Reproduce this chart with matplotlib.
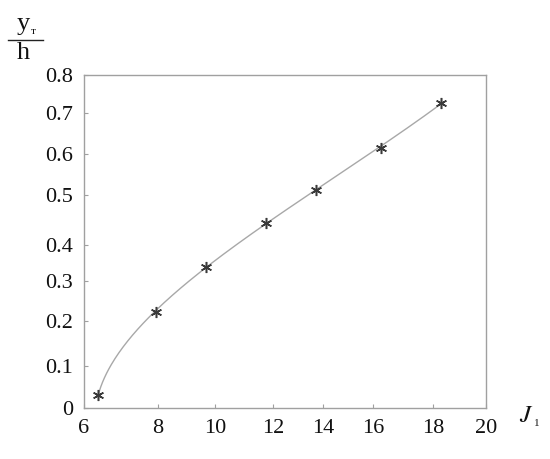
import matplotlib
matplotlib.use("Agg")
import matplotlib.pyplot as plt
import numpy as np

# measured points, J1 against yT/h
j1 = [6.37, 7.95, 9.68, 11.76, 13.7, 16.26, 18.3]
yt_h = [0.03, 0.222, 0.34, 0.445, 0.512, 0.615, 0.726]

x_ticks = [6, 8, 10, 12, 14, 16, 18, 20]
y_ticks = [0, 0.1, 0.2, 0.3, 0.4, 0.5, 0.6, 0.7, 0.8]
x_tick_labels = ["6", "8", "10", "12", "14", "16", "18", "20"]
y_tick_labels = ["0", "0.1", "0.2", "0.3", "0.4", "0.5", "0.6", "0.7", "0.8"]

# the original drawing has uneven tick spacing; calibrate the axes to it
x_cal = np.array([0, 74, 131, 189, 239, 289, 349, 402]) / 402
y_cal = np.array([0, 42, 87, 127, 163, 213, 254, 295, 333]) / 333


def fwd_x(x):
    return np.interp(x, x_ticks, x_cal)


def inv_x(u):
    return np.interp(u, x_cal, x_ticks)


def fwd_y(y):
    return np.interp(y, y_ticks, y_cal)


def inv_y(v):
    return np.interp(v, y_cal, y_ticks)


plt.rcParams["font.family"] = ["Liberation Serif", "DejaVu Serif"]
plt.rcParams["mathtext.fontset"] = "stix"

fig = plt.figure(figsize=(5.5, 4.59), dpi=100)
ax = fig.add_axes([84 / 550, 51 / 459, 402 / 550, 333 / 459])
ax.set_xscale("function", functions=(fwd_x, inv_x))
ax.set_yscale("function", functions=(fwd_y, inv_y))
ax.set_xlim(6, 20)
ax.set_ylim(0, 0.8)

# smooth trend curve fitted in the drawn (calibrated) space
u = fwd_x(np.array(j1))
v = fwd_y(np.array(yt_h))
coef = np.polyfit(v, u, 3)
vs = np.linspace(v[0], v[-1], 200)
us = np.polyval(coef, vs)
ax.plot(inv_x(us), inv_y(vs), color="#a8a8a8", lw=1.0)

ax.plot(j1, yt_h, linestyle="none", marker=(6, 2, 0), markersize=8,
        markeredgewidth=1.1, color="#3a3a3a")

gray = "#a0a0a0"
for s in ax.spines.values():
    s.set_color(gray)
    s.set_linewidth(1.0)
ax.set_xticks(x_ticks)
ax.set_xticklabels(x_tick_labels)
ax.set_yticks(y_ticks)
ax.set_yticklabels(y_tick_labels)
ax.tick_params(direction="in", length=3, color=gray, labelsize=16,
               labelcolor="#111111")
ax.tick_params(axis="x", pad=8)
ax.tick_params(axis="y", pad=8)

# axis titles
fig.text(526 / 550, 1 - 416 / 459, r"$J$", fontsize=18, ha="center", va="center",
         color="#111111")
fig.text(537 / 550, 1 - 424 / 459, "1", fontsize=8, ha="center", va="center",
         color="#111111")
fig.text(23 / 550, 1 - 24 / 459, "y", fontsize=19, ha="center", va="center",
         color="#111111")
fig.text(33 / 550, 1 - 31 / 459, "т", fontsize=8, ha="center", va="center",
         color="#111111")
fig.add_artist(plt.Line2D([8 / 550, 43 / 550], [1 - 39.5 / 459, 1 - 39.5 / 459],
                          color="#222222", lw=1.0))
fig.text(23 / 550, 1 - 53 / 459, "h", fontsize=19, ha="center", va="center",
         color="#111111")

fig.savefig("out.png", dpi=100)
